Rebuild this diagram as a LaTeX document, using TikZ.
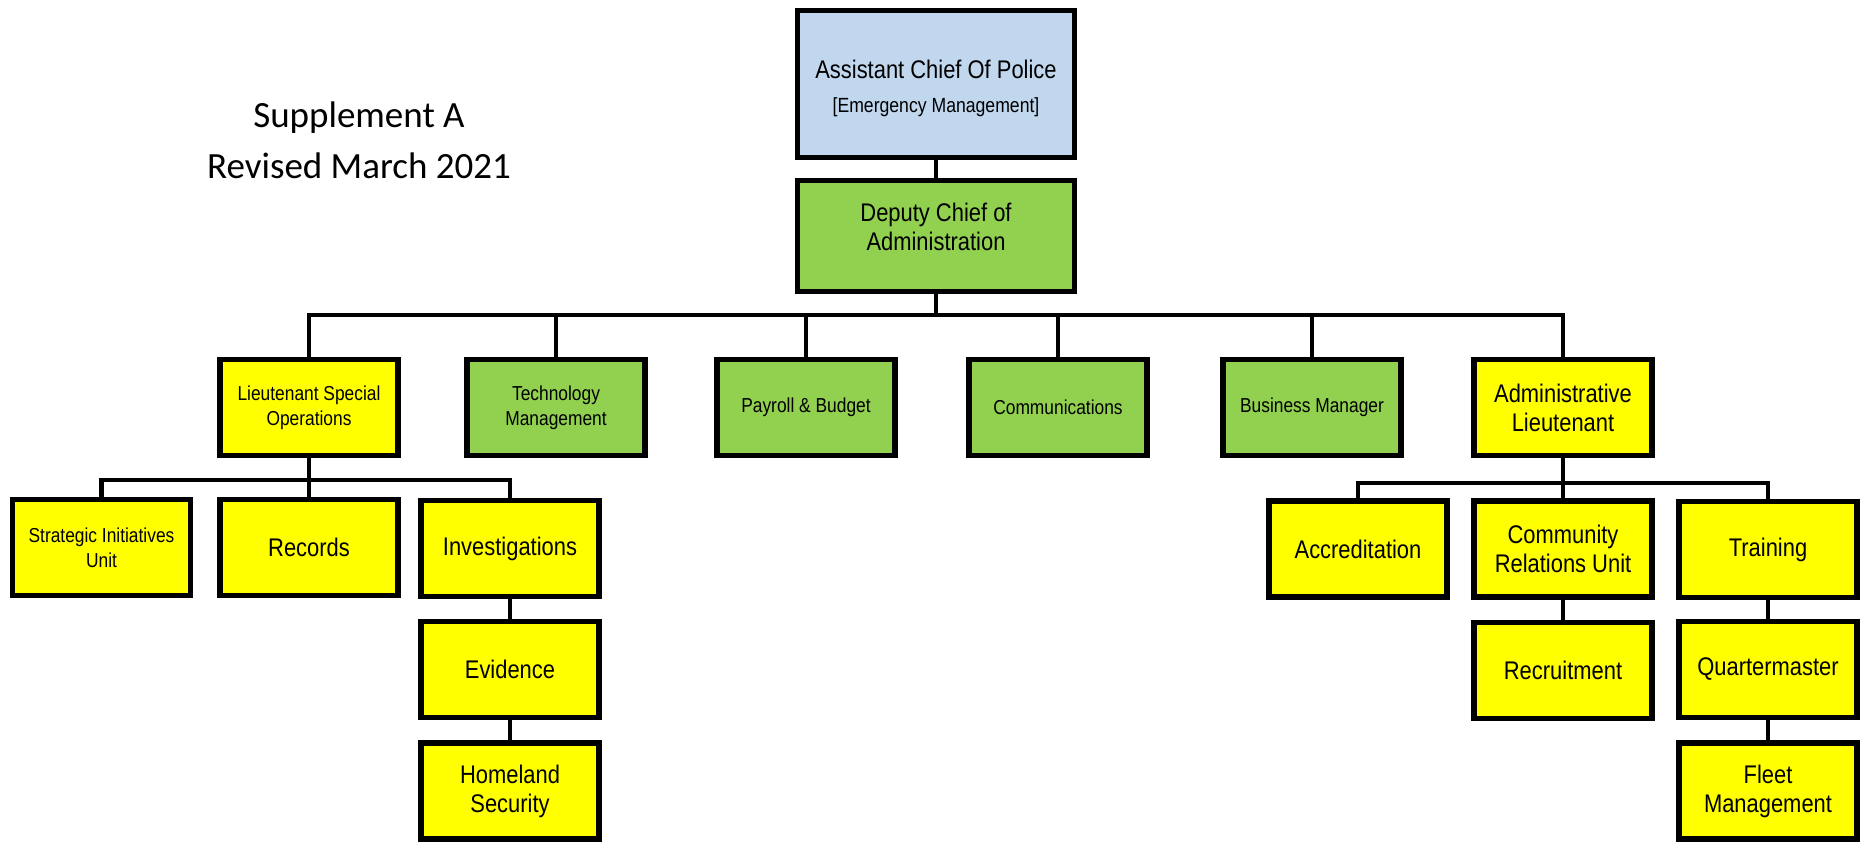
\documentclass[tikz,border=0pt]{standalone}
\usepackage{fontspec}
\newfontfamily\boxfont{Liberation Sans}[FakeStretch=0.86]
\newfontfamily\titlefont{Carlito}
\definecolor{boxblue}{HTML}{C0D7EE}
\definecolor{boxgreen}{HTML}{92D050}
\definecolor{boxyellow}{HTML}{FFFF00}
\begin{document}
\begin{tikzpicture}[x=1pt,y=-1pt,
  orgbox/.style={draw=black, line width=5.5pt, minimum width=178pt, minimum height=96pt, inner sep=2pt, align=center, text=black},
  bigtxt/.style={font=\boxfont\fontsize{25.5}{29}\selectfont},
  smalltxt/.style={font=\boxfont\fontsize{20.2}{25}\selectfont},
  yel/.style={orgbox, fill=boxyellow},
  grn/.style={orgbox, fill=boxgreen},
  blu/.style={orgbox, fill=boxblue},
  conn/.style={draw=black, line width=4.8pt, line join=miter}]
\useasboundingbox (0,0) rectangle (1864,842);
% title
\node[font=\titlefont\fontsize{37}{51}\selectfont, align=center] (title) at (359,140) {Supplement A\\Revised March 2021};
% top
\node[blu, minimum width=277pt, minimum height=147pt] (top) at (936,84) {};
\node[bigtxt, align=center] (topt) at (936,88) {Assistant Chief Of Police\\[5pt]{\fontsize{20.5}{24}\selectfont[Emergency Management]}};
\node[grn, minimum width=277pt, minimum height=111pt] (dep) at (936,236) {};
\node[bigtxt, align=center] (dept) at (936,226.5) {Deputy Chief of\\Administration};
% row 2
\node[yel, smalltxt] (lso) at (309,407.5) {Lieutenant Special\\Operations};
\node[grn, smalltxt] (tech) at (556,407.5) {Technology\\Management};
\node[grn, smalltxt] (pay) at (806,407.5) {Payroll \& Budget};
\node[grn, smalltxt] (comm) at (1058,407.5) {Communications};
\node[grn, smalltxt] (bus) at (1312,407.5) {Business Manager};
\node[yel, bigtxt] (adm) at (1563,407.5) {Administrative\\Lieutenant};
% row 3 left
\node[yel, smalltxt] (strat) at (101.5,547.5) {Strategic Initiatives\\Unit};
\node[yel, bigtxt] (rec) at (309,547.5) {Records};
\node[yel, bigtxt] (inv) at (510,548.5) {Investigations};
\node[yel, bigtxt] (evid) at (510,669.5) {Evidence};
\node[yel, bigtxt] (home) at (510,791) {Homeland\\Security};
% row 3 right
\node[yel, bigtxt] (acc) at (1358,549) {Accreditation};
\node[yel, bigtxt] (com) at (1563,549) {Community\\Relations Unit};
\node[yel, bigtxt] (trn) at (1768,549.5) {Training};
\node[yel, bigtxt] (rcr) at (1563,670.5) {Recruitment};
\node[yel, bigtxt] (qm) at (1768,669.5) {Quartermaster};
\node[yel, bigtxt] (flt) at (1768,791) {Fleet\\Management};
% connectors
\coordinate (mb) at (936,315);
\coordinate (lb) at (309,480);
\coordinate (rb) at (1563,483);
\draw[conn] (top.south) -- (dep.north);
\draw[conn] (dep.south) -- (mb);
\draw[conn] (lso.north) |- (mb) -| (adm.north);
\draw[conn] (tech.north) -- (tech.north |- mb);
\draw[conn] (pay.north) -- (pay.north |- mb);
\draw[conn] (comm.north) -- (comm.north |- mb);
\draw[conn] (bus.north) -- (bus.north |- mb);
\draw[conn] (lso.south) -- (rec.north);
\draw[conn] (strat.north) |- (lb) -| (inv.north);
\draw[conn] (inv.south) -- (evid.north);
\draw[conn] (evid.south) -- (home.north);
\draw[conn] (adm.south) -- (com.north);
\draw[conn] (acc.north) |- (rb) -| (trn.north);
\draw[conn] (com.south) -- (rcr.north);
\draw[conn] (trn.south) -- (qm.north);
\draw[conn] (qm.south) -- (flt.north);
\end{tikzpicture}
\end{document}
